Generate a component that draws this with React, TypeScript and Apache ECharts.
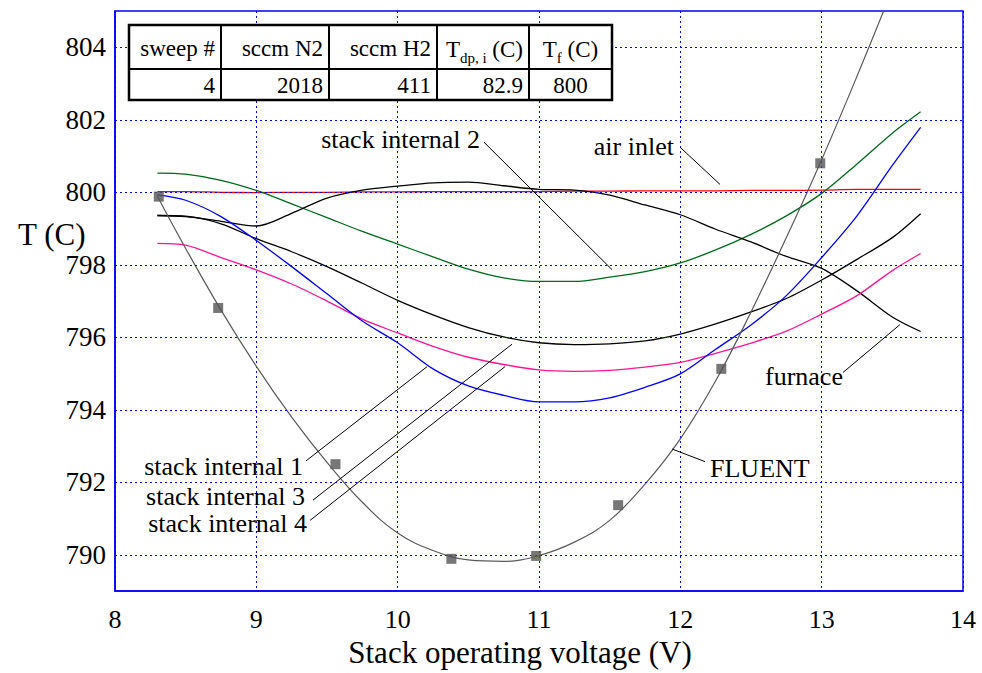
import React, { useEffect, useRef } from "react";
import * as echarts from "echarts";

const FONT = "Liberation Serif, Times New Roman, serif";

// ---- data ----
const voltage = [8.3, 8.5, 8.75, 9, 9.25, 9.5, 9.75, 10, 10.25, 10.5, 10.75, 11, 11.25, 11.5, 11.75, 12, 12.25, 12.5, 12.75, 13, 13.25, 13.5, 13.7];
const airInlet = [800.02, 800.02, 800.0, 799.99, 800.0, 800.0, 800.01, 800.01, 800.02, 800.02, 800.02, 800.02, 800.03, 800.03, 800.04, 800.04, 800.04, 800.05, 800.05, 800.06, 800.08, 800.08, 800.08];
const stackInternal1 = [799.93, 799.78, 799.33, 798.67, 797.95, 797.2, 796.45, 795.85, 795.13, 794.66, 794.4, 794.22, 794.22, 794.33, 794.62, 794.99, 795.67, 796.34, 797.15, 798.2, 799.35, 800.74, 801.79];
const stackInternal2 = [800.53, 800.5, 800.33, 800.05, 799.68, 799.3, 798.92, 798.57, 798.22, 797.88, 797.64, 797.54, 797.54, 797.66, 797.81, 798.05, 798.41, 798.84, 799.35, 799.97, 800.78, 801.63, 802.22];
const stackInternal3 = [799.36, 799.34, 799.13, 798.72, 798.36, 797.95, 797.49, 797.02, 796.62, 796.27, 796.01, 795.85, 795.8, 795.82, 795.9, 796.09, 796.37, 796.7, 797.07, 797.58, 798.15, 798.75, 799.41];
const stackInternal4 = [798.59, 798.54, 798.2, 797.86, 797.47, 797.0, 796.5, 796.12, 795.75, 795.45, 795.25, 795.1, 795.06, 795.09, 795.18, 795.31, 795.56, 795.84, 796.17, 796.64, 797.15, 797.84, 798.31];
const furnace = [799.36, 799.33, 799.2, 799.07, 799.42, 799.84, 800.06, 800.17, 800.26, 800.28, 800.18, 800.08, 800.06, 799.92, 799.65, 799.38, 798.98, 798.63, 798.23, 797.9, 797.28, 796.56, 796.16];

const fluentCurveVoltage = [8.3, 8.5, 8.75, 9, 9.25, 9.5, 9.75, 10, 10.25, 10.5, 10.75, 11, 11.25, 11.5, 11.75, 12, 12.25, 12.5, 12.75, 13, 13.25, 13.5];
const fluentCurveTemp = [799.89, 798.45, 796.75, 795.2, 793.8, 792.55, 791.45, 790.6, 790.12, 789.86, 789.82, 789.98, 790.35, 790.95, 791.95, 793.2, 794.8, 796.7, 798.75, 800.9, 803.2, 805.6];
const fluentPointVoltage = [8.31, 8.73, 9.56, 10.38, 10.98, 11.56, 12.29, 12.99];
const fluentPointTemp = [799.88, 796.81, 792.5, 789.89, 789.97, 791.37, 795.13, 800.8];

const yGridValues = [790, 792, 794, 796, 798, 800, 802, 804];

const tableHeaders = ["sweep #", "sccm N2", "sccm H2", "T_dp, i (C)", "T_f (C)"];
const tableValues = ["4", "2018", "411", "82.9", "800"];

// annotation labels (data coordinates)
const annotations = [
  { text: "stack internal 2", at: [10.583, 801.46], align: "right", from: [10.611, 801.38], to: [11.517, 797.865] },
  { text: "air inlet", at: [11.955, 801.27], align: "right", from: [11.998, 801.243], to: [12.281, 800.216] },
  { text: "furnace", at: [12.599, 794.92], align: "left", from: [13.151, 795.03], to: [13.554, 796.35] },
  { text: "FLUENT", at: [12.21, 792.38], align: "left", from: [12.175, 792.57], to: [11.941, 792.92] },
  { text: "stack internal 1", at: [9.33, 792.43], align: "right", from: [9.351, 792.59], to: [10.208, 795.19] },
  { text: "stack internal 3", at: [9.344, 791.62], align: "right", from: [9.401, 791.51], to: [10.809, 795.81] },
  { text: "stack internal 4", at: [9.359, 790.86], align: "right", from: [9.38, 790.95], to: [10.759, 795.19] },
];

const zip = (xs: number[], ys: number[]) => xs.map((x, i) => [x, ys[i]]);

const BLUE = "#0000ff";

export default function App() {
  const ref = useRef<HTMLDivElement>(null);
  useEffect(() => {
    if (!ref.current) return;
    const chart = echarts.init(ref.current, null, { renderer: "svg" });
    const lineSeries = (name: string, data: number[], color: string) => ({
      name,
      type: "line",
      data: zip(voltage, data),
      showSymbol: false,
      smooth: 0.3,
      z: 3,
      lineStyle: { color, width: 1.3 },
      itemStyle: { color },
    });
    const option: any = {
      animation: false,
      backgroundColor: "#ffffff",
      textStyle: { fontFamily: FONT },
      grid: {
        left: 115,
        right: 19,
        top: 11,
        bottom: 69,
        show: true,
        borderColor: BLUE,
        borderWidth: 1.5,
        backgroundColor: "transparent",
      },
      xAxis: {
        type: "value",
        min: 8,
        max: 14,
        interval: 1,
        name: "Stack operating voltage (V)",
        nameLocation: "middle",
        nameGap: 40,
        nameTextStyle: { fontFamily: FONT, fontSize: 31, color: "#000", padding: [0, 38, 0, 0] },
        axisLine: { show: true, lineStyle: { color: BLUE, width: 1.5 } },
        axisTick: { show: false },
        axisLabel: { fontFamily: FONT, fontSize: 26, color: "#000", margin: 15 },
        splitLine: { show: true, lineStyle: { color: BLUE, width: 1, type: [2, 3] } },
      },
      yAxis: {
        type: "value",
        min: 789,
        max: 805,
        interval: 1,
        axisLine: { show: true, lineStyle: { color: BLUE, width: 1.5 } },
        axisTick: { show: false },
        axisLabel: {
          fontFamily: FONT,
          fontSize: 27,
          color: "#000",
          margin: 9,
          formatter: (v: number) => (v % 2 === 0 ? String(v) : ""),
        },
        splitLine: { show: false },
      },
      series: [
        {
          name: "grid",
          type: "line",
          data: [],
          z: 1,
          silent: true,
          markLine: {
            silent: true,
            symbol: "none",
            label: { show: false },
            lineStyle: { color: BLUE, width: 1, type: [2, 3] },
            data: yGridValues.map((v) => ({ yAxis: v })),
          },
        },
        lineSeries("air inlet", airInlet, "#ff0000"),
        lineSeries("stack internal 2", stackInternal2, "#006a1a"),
        lineSeries("furnace", furnace, "#000000"),
        lineSeries("stack internal 3", stackInternal3, "#000000"),
        lineSeries("stack internal 4", stackInternal4, "#ff1493"),
        lineSeries("stack internal 1", stackInternal1, "#0000ff"),
        {
          name: "FLUENT",
          type: "line",
          data: zip(fluentCurveVoltage, fluentCurveTemp),
          showSymbol: false,
          smooth: 0.4,
          clip: true,
          z: 4,
          lineStyle: { color: "#5a5a5a", width: 1.2 },
        },
        {
          name: "FLUENT points",
          type: "scatter",
          data: zip(fluentPointVoltage, fluentPointTemp),
          symbol: "rect",
          symbolSize: 10,
          z: 5,
          itemStyle: { color: "#555555" },
        },
      ],
    };
    chart.setOption(option);

    const px = (p: number[]) => chart.convertToPixel({ gridIndex: 0 }, p) as number[];
    const graphics: any[] = [];
    annotations.forEach((a, i) => {
      const at = px(a.at);
      const f = px(a.from);
      const t = px(a.to);
      graphics.push({
        type: "line",
        id: "lead" + i,
        z: 10,
        shape: { x1: f[0], y1: f[1], x2: t[0], y2: t[1] },
        style: { stroke: "#000", lineWidth: 1 },
      });
      graphics.push({
        type: "text",
        id: "ann" + i,
        z: 10,
        x: at[0],
        y: at[1],
        style: {
          text: a.text,
          fontFamily: FONT,
          fontSize: 26,
          fill: "#000",
          align: a.align,
          verticalAlign: "middle",
        },
      });
    });

    // y axis title
    graphics.push({
      type: "text",
      id: "ytitle",
      x: 18,
      y: 234,
      style: { text: "T (C)", fontFamily: FONT, fontSize: 31, fill: "#000", align: "left", verticalAlign: "middle" },
    });

    // table
    const cols = [129, 221, 329, 437, 529, 612];
    const rows = [25, 69, 100];
    graphics.push({
      type: "rect",
      id: "tbl",
      z: 20,
      shape: { x: cols[0], y: rows[0], width: cols[5] - cols[0], height: rows[2] - rows[0] },
      style: { fill: "#fff", stroke: "#000", lineWidth: 2.5 },
    });
    for (let c = 1; c < cols.length - 1; c++) {
      graphics.push({
        type: "line",
        id: "tc" + c,
        z: 21,
        shape: { x1: cols[c], y1: rows[0], x2: cols[c], y2: rows[2] },
        style: { stroke: "#000", lineWidth: 2 },
      });
    }
    graphics.push({
      type: "line",
      id: "tr",
      z: 21,
      shape: { x1: cols[0], y1: rows[1], x2: cols[5], y2: rows[1] },
      style: { stroke: "#000", lineWidth: 2 },
    });
    const headY = (rows[0] + rows[1]) / 2 + 1;
    const valY = (rows[1] + rows[2]) / 2 + 1;
    tableHeaders.forEach((h, i) => {
      const centered = i === 4;
      const x = centered ? (cols[i] + cols[i + 1]) / 2 : cols[i + 1] - 6;
      const m = h.match(/^(\w)_([^ ]+(?: i)?) (.*)$/);
      let text = h;
      let rich: any = undefined;
      if (m) {
        text = `{m|${m[1]}}{s|${m[2]}}{m| ${m[3]}}`;
        rich = {
          m: { fontFamily: FONT, fontSize: 23, fill: "#000", lineHeight: 26, verticalAlign: "bottom" },
          s: { fontFamily: FONT, fontSize: 15, fill: "#000", lineHeight: 14, verticalAlign: "bottom", padding: [0, 0, -4, 0] },
        };
      }
      graphics.push({
        type: "text",
        id: "th" + i,
        z: 22,
        x,
        y: headY,
        style: {
          text,
          rich,
          fontFamily: FONT,
          fontSize: 23,
          fill: "#000",
          align: centered ? "center" : "right",
          verticalAlign: "middle",
        },
      });
    });
    tableValues.forEach((v, i) => {
      const centered = i === 4;
      const x = centered ? (cols[i] + cols[i + 1]) / 2 : cols[i + 1] - 6;
      graphics.push({
        type: "text",
        id: "tv" + i,
        z: 22,
        x,
        y: valY,
        style: {
          text: v,
          fontFamily: FONT,
          fontSize: 23,
          fill: "#000",
          align: centered ? "center" : "right",
          verticalAlign: "middle",
        },
      });
    });

    chart.setOption({ graphic: graphics });
    return () => chart.dispose();
  }, []);
  return (
    <div
      ref={ref}
      style={{ position: "fixed", left: 0, top: 0, width: 982, height: 673, background: "#fff" }}
    />
  );
}
